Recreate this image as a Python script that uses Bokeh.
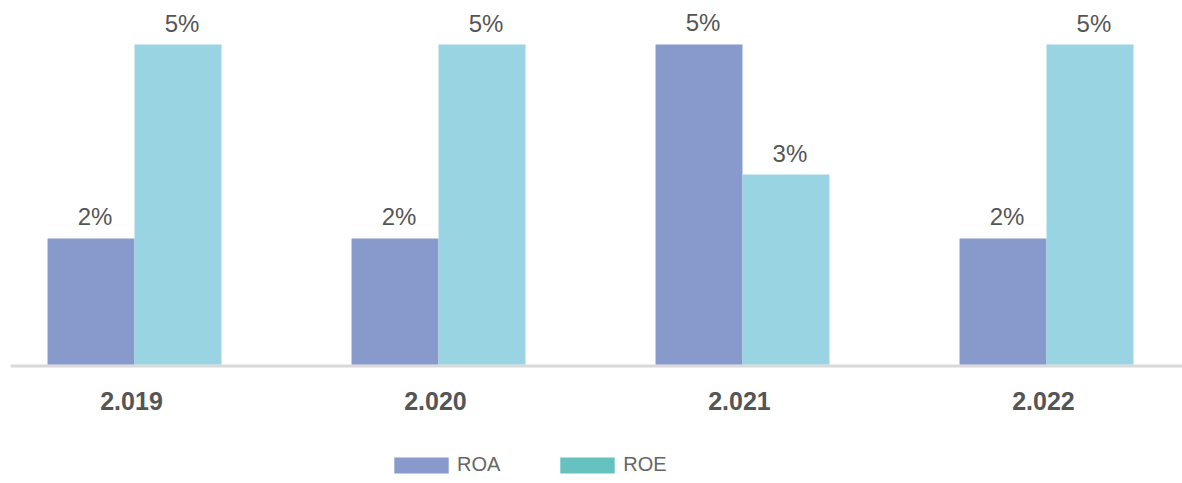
from bokeh.plotting import figure
from bokeh.models import ColumnDataSource, Range1d, Span, Legend, LegendItem
from bokeh.core.properties import value
from bokeh.transform import dodge
from bokeh.embed import file_html
from bokeh.resources import INLINE

# ---- data ----
categories = ["2.019", "2.020", "2.021", "2.022"]
roa = [1.97, 1.97, 5.0, 1.97]   # percent
roe = [5.0, 5.0, 2.97, 5.0]     # percent

ROA_COLOR = "#8899cc"
ROE_COLOR = "#99d4e3"
ROE_LEGEND_COLOR = "#66c2bf"
TEXT_COLOR = "#555555"
FONT = "Liberation Sans"

xs = list(range(len(categories)))
src = ColumnDataSource(dict(
    x=xs,
    cat=categories,
    roa=roa,
    roe=roe,
    roa_lbl=[f"{v:.0f}%" for v in roa],
    roe_lbl=[f"{v:.0f}%" for v in roe],
))

p = figure(width=1182, height=483, output_backend="svg", toolbar_location=None,
           x_range=Range1d(-0.4079, 3.4474), y_range=Range1d(-1.859, 5.6875),
           min_border_left=10, min_border_right=0, min_border_top=0, min_border_bottom=0)
p.axis.visible = False
p.grid.visible = False
p.outline_line_color = None
p.background_fill_color = "white"

# baseline
p.add_layout(Span(location=-0.023, dimension="width", line_color="#d9d9d9",
                  line_width=3, level="underlay"))

bw = 0.286
r_roa = p.vbar(x=dodge("x", -bw / 2, range=p.x_range), top="roa", bottom=0, width=bw,
               source=src, fill_color=ROA_COLOR, line_color=None)
r_roe = p.vbar(x=dodge("x", bw / 2, range=p.x_range), top="roe", bottom=0, width=bw,
               source=src, fill_color=ROE_COLOR, line_color=None)
# legend-only renderer with the legend swatch colour
r_roe_leg = p.vbar(x=dodge("x", bw / 2, range=p.x_range), top="roe", bottom=0, width=bw,
                   source=src, fill_color=ROE_LEGEND_COLOR, line_color=None, visible=False)

# value labels
p.text(x=dodge("x", -bw / 2, range=p.x_range), y="roa", text="roa_lbl", source=src,
       text_align="center", text_baseline="middle", y_offset=-22, x_offset=4,
       text_font=value(FONT), text_font_size="24px", text_color=TEXT_COLOR)
p.text(x=dodge("x", bw / 2, range=p.x_range), y="roe", text="roe_lbl", source=src,
       text_align="center", text_baseline="middle", y_offset=-21, x_offset=4,
       text_font=value(FONT), text_font_size="24px", text_color=TEXT_COLOR)

# category labels
p.text(x="x", y=0, text="cat", source=src, text_align="center", text_baseline="middle",
       y_offset=36, x_offset=-3, text_font=value(FONT), text_font_size="25px",
       text_font_style="bold", text_color=TEXT_COLOR)

legend = Legend(items=[LegendItem(label="ROA", renderers=[r_roa]),
                       LegendItem(label="ROE", renderers=[r_roe_leg])],
                orientation="horizontal", location=(377, 7),
                glyph_width=68, glyph_height=20, label_standoff=2, spacing=53,
                padding=0, margin=0, border_line_color=None,
                background_fill_alpha=0,
                label_text_font=FONT, label_text_font_size="20px",
                label_text_color="#666666", label_height=20)
p.add_layout(legend)

open("out.html", "w").write(file_html(p, INLINE))
